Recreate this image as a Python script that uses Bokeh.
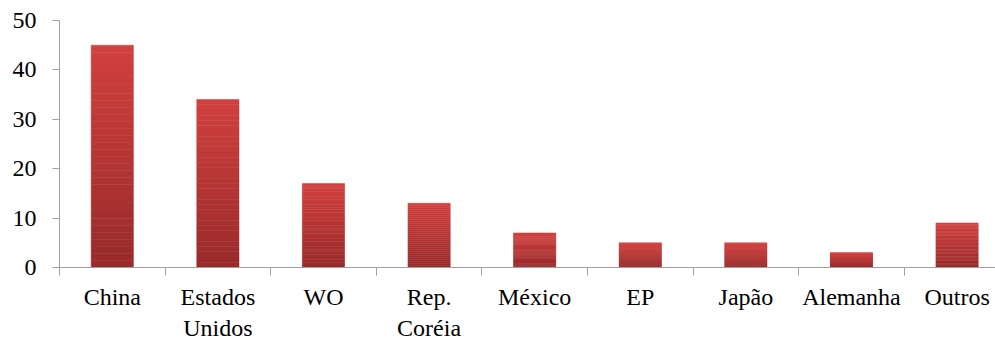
from bokeh.plotting import figure
from bokeh.models import Range1d, FixedTicker
from bokeh.embed import file_html
from bokeh.resources import INLINE

categories = ["China", "Estados\nUnidos", "WO", "Rep.\nCoréia", "México", "EP", "Japão", "Alemanha", "Outros"]
values = [45, 34, 17, 13, 7, 5, 5, 3, 9]
y_ticks = [0, 10, 20, 30, 40, 50]

FONT = "Liberation Serif"
AXIS_COLOR = "#a0a0a0"
top_rgb = (209, 65, 63)
bot_rgb = (152, 42, 42)
N = 32

p = figure(width=995, height=343, output_backend="svg", toolbar_location=None,
           x_range=Range1d(0, 8.864), y_range=Range1d(0, 50),
           min_border_left=59, min_border_right=0, min_border_top=20, min_border_bottom=67)
p.outline_line_color = None
p.xgrid.visible = False
p.ygrid.visible = False

xs = [i + 0.5 for i in range(len(categories))]

# gradient bars: each bar split into slices of its own height
bx, bb, bt, bc = [], [], [], []
for k in range(N):
    t = (k + 0.5) / N
    c = tuple(int(round(bot_rgb[j] + (top_rgb[j] - bot_rgb[j]) * t)) for j in range(3))
    col = "#%02x%02x%02x" % c
    for x, v in zip(xs, values):
        bx.append(x)
        bb.append(v * k / N)
        bt.append(v * (k + 1) / N)
        bc.append(col)
p.vbar(x=bx, bottom=bb, top=bt, width=0.40, fill_color=bc, line_color=bc, line_width=0.5)

ax = p.xaxis[0]
ax.ticker = FixedTicker(ticks=xs, minor_ticks=list(range(len(categories) + 1)))
ax.major_tick_line_color = None
ax.major_tick_out = 0
ax.major_tick_in = 0
ax.minor_tick_out = 8
ax.minor_tick_in = 0
ax.minor_tick_line_color = AXIS_COLOR
ax.axis_line_color = AXIS_COLOR
ax.major_label_overrides = {x: c for x, c in zip(xs, categories)}
ax.major_label_text_font = FONT
ax.major_label_text_font_size = "24px"
ax.major_label_text_color = "#000000"
ax.major_label_standoff = 8

ay = p.yaxis[0]
ay.ticker = FixedTicker(ticks=y_ticks)
ay.minor_tick_line_color = None
ay.major_tick_out = 7
ay.major_tick_in = 0
ay.major_tick_line_color = AXIS_COLOR
ay.axis_line_color = AXIS_COLOR
ay.major_label_text_font = FONT
ay.major_label_text_font_size = "24px"
ay.major_label_text_color = "#000000"
ay.major_label_standoff = 16

open("out.html", "w").write(file_html(p, INLINE))
